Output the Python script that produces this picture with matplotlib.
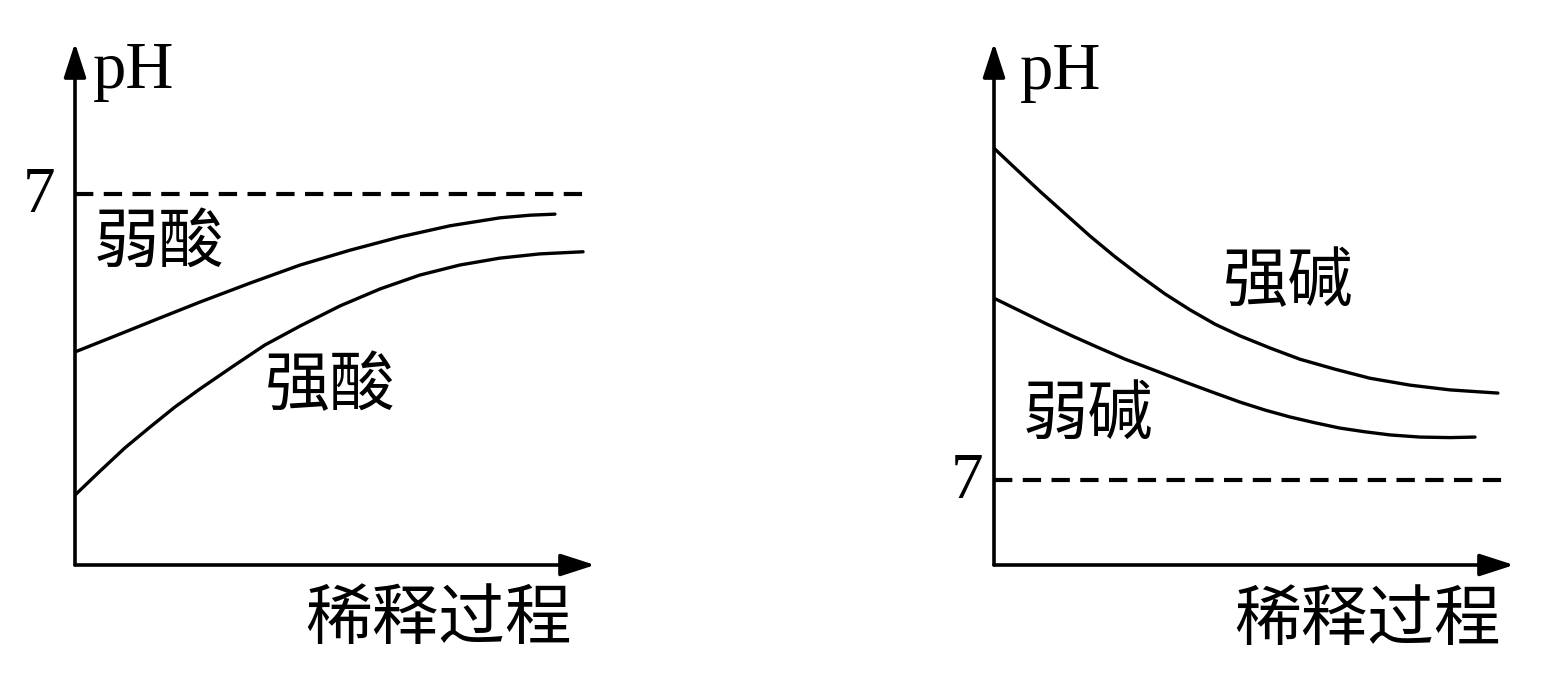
import matplotlib
matplotlib.use("Agg")
import matplotlib.pyplot as plt
from matplotlib.patches import FancyArrowPatch

# ---- data (dilution progress, pH) ----
weak_acid_x = [0, 0.87, 1.63, 2.40, 3.37, 4.33, 5.29, 6.25, 7.21, 8.17, 8.75, 9.23]
weak_acid_y = [4.02, 4.36, 4.66, 4.96, 5.32, 5.66, 5.94, 6.19, 6.40, 6.55, 6.60, 6.62]
strong_acid_x = [0, 0.48, 0.96, 1.44, 1.92, 2.40, 3.04, 3.65, 4.33, 5.10, 5.87, 6.63,
                 7.40, 8.17, 8.94, 9.77]
strong_acid_y = [1.32, 1.77, 2.21, 2.60, 2.98, 3.32, 3.75, 4.15, 4.51, 4.89, 5.21, 5.47,
                 5.66, 5.79, 5.87, 5.91]

strong_base_x = [0, 0.40, 0.88, 1.37, 1.85, 2.33, 2.81, 3.29, 3.77, 4.25, 4.73, 5.31,
                 5.88, 6.56, 7.23, 8.0, 8.77, 9.69]
strong_base_y = [13.26, 12.89, 12.45, 12.02, 11.60, 11.21, 10.85, 10.51, 10.21, 9.94, 9.72,
                 9.49, 9.28, 9.09, 8.92, 8.79, 8.70, 8.64]
weak_base_x = [0, 0.5, 1.02, 1.5, 1.98, 2.52, 3.06, 3.67, 4.25, 4.73, 5.21, 5.69, 6.17,
               6.65, 7.13, 7.62, 8.19, 8.77, 9.25]
weak_base_y = [10.43, 10.19, 9.94, 9.72, 9.51, 9.28, 9.08, 8.85, 8.64, 8.47, 8.32, 8.19,
               8.08, 7.98, 7.91, 7.85, 7.81, 7.80, 7.81]

neutral_ph = 7
dash_end = 9.77
axis_label = "稀释过程"
y_label = "pH"

serif = ["Liberation Serif", "DejaVu Serif"]
cjk = ["Noto Sans CJK SC", "DejaVu Sans"]

W, H = 1545, 682
fig = plt.figure(figsize=(W / 100, H / 100), dpi=100)

def make_axes(x0px, ylo, yhi):
    ax = fig.add_axes([x0px / W, 117 / H, 520 / W, 522 / H])
    ax.set_xlim(0, 10)
    ax.set_ylim(ylo, yhi)
    ax.axis("off")
    for start, end in [((0, ylo), (0, yhi)), ((0, ylo), (10, ylo))]:
        arr = FancyArrowPatch(start, end, arrowstyle="-|>,head_length=1.05,head_width=0.34",
                              mutation_scale=20, color="black", lw=2.6,
                              shrinkA=0, shrinkB=0, clip_on=False)
        ax.add_patch(arr)
    return ax

dash_lw = 3.0
dash = (4.4, 2.5)
lw = 2.4

# ---- left: acids ----
axL = make_axes(75, 0, 522 / 53)
axL.plot([0, dash_end], [neutral_ph, neutral_ph], color="black", lw=dash_lw, dashes=dash)
axL.plot(weak_acid_x, weak_acid_y, color="black", lw=lw, solid_capstyle="round")
axL.plot(strong_acid_x, strong_acid_y, color="black", lw=lw, solid_capstyle="round")
axL.text(0.35, 9.0, y_label, family=serif, fontsize=48, ha="left", va="baseline")
axL.text(-0.38, 6.66, "7", family=serif, fontsize=47, ha="right", va="baseline")
axL.text(1.62, 6.06, "弱酸", family=cjk, fontsize=47, ha="center", va="center")
axL.text(4.9, 3.36, "强酸", family=cjk, fontsize=47, ha="center", va="center")
axL.text(6.98, -1.04, axis_label, family=cjk, fontsize=48, ha="center", va="center")

# ---- right: bases ----
ylo = 7 - 85 / 53
axR = make_axes(994, ylo, ylo + 522 / 53)
axR.plot([0, dash_end], [neutral_ph, neutral_ph], color="black", lw=dash_lw, dashes=dash)
axR.plot(strong_base_x, strong_base_y, color="black", lw=lw, solid_capstyle="round")
axR.plot(weak_base_x, weak_base_y, color="black", lw=lw, solid_capstyle="round")
axR.text(0.5, 14.38, y_label, family=serif, fontsize=48, ha="left", va="baseline")
axR.text(-0.21, 6.66, "7", family=serif, fontsize=47, ha="right", va="baseline")
axR.text(5.65, 10.72, "强碱", family=cjk, fontsize=47, ha="center", va="center")
axR.text(1.81, 8.21, "弱碱", family=cjk, fontsize=47, ha="center", va="center")
axR.text(7.19, 4.34, axis_label, family=cjk, fontsize=48, ha="center", va="center")

fig.savefig("out.png", dpi=100, facecolor="white")
